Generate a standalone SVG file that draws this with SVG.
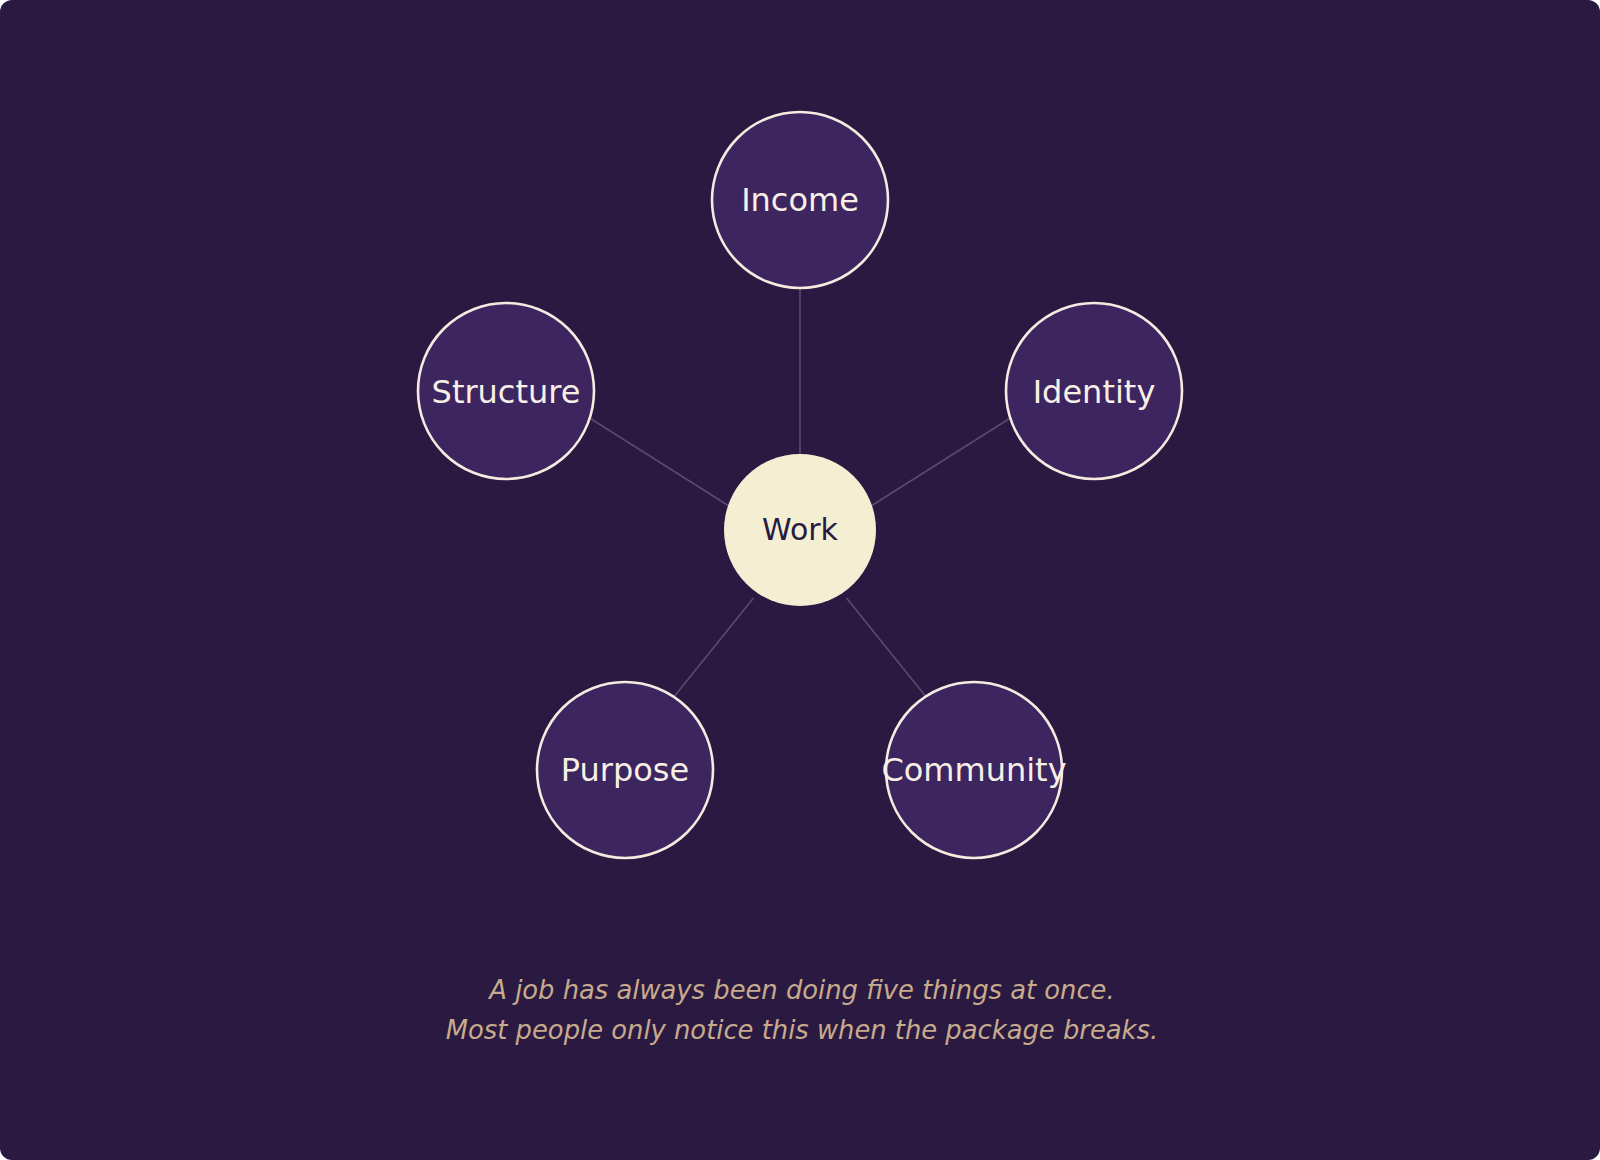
<svg xmlns="http://www.w3.org/2000/svg" width="1600" height="1160" viewBox="0 0 1600 1160">
<style>
.bg{fill:#2a1a42}
.edge{stroke:#5a4a72;stroke-width:1.6;fill:none}
.outer{fill:#3d2560;stroke:#f5ebe0;stroke-width:2.6}
.olabel{font-family:"DejaVu Sans",sans-serif;font-size:32px;fill:#f8efe6;text-anchor:middle}
.center{fill:#f4efd3}
.clabel{font-family:"DejaVu Sans",sans-serif;font-size:30px;fill:#2a1a42;text-anchor:middle}
.caption{font-family:"DejaVu Sans",sans-serif;font-size:25.8px;font-style:italic;fill:#c8aa8c;text-anchor:middle}
</style>
<rect class="bg" x="0" y="0" width="1600" height="1160" rx="12" ry="12"/>
<g id="connectors">
<line class="edge" x1="800" y1="456" x2="800" y2="286"/>
<line class="edge" x1="729" y1="506" x2="588" y2="417"/>
<line class="edge" x1="871" y1="506" x2="1012" y2="417"/>
<line class="edge" x1="753.5" y1="598" x2="673" y2="698"/>
<line class="edge" x1="846.5" y1="598" x2="927" y2="698"/>
</g>
<g id="node-income"><circle class="outer" cx="800" cy="200" r="88"/><text class="olabel" x="800" y="211">Income</text></g>
<g id="node-structure"><circle class="outer" cx="506" cy="391" r="88"/><text class="olabel" x="506" y="403">Structure</text></g>
<g id="node-identity"><circle class="outer" cx="1094" cy="391" r="88"/><text class="olabel" x="1094" y="403">Identity</text></g>
<g id="node-purpose"><circle class="outer" cx="625" cy="770" r="88"/><text class="olabel" x="625" y="781">Purpose</text></g>
<g id="node-community"><circle class="outer" cx="974" cy="770" r="88"/><text class="olabel" x="974" y="781">Community</text></g>
<g id="node-work"><circle class="center" cx="800" cy="530" r="76"/><text class="clabel" x="800" y="540">Work</text></g>
<g id="caption">
<text class="caption" x="802" y="999">A job has always been doing five things at once.</text>
<text class="caption" x="802" y="1039">Most people only notice this when the package breaks.</text>
</g>
</svg>
